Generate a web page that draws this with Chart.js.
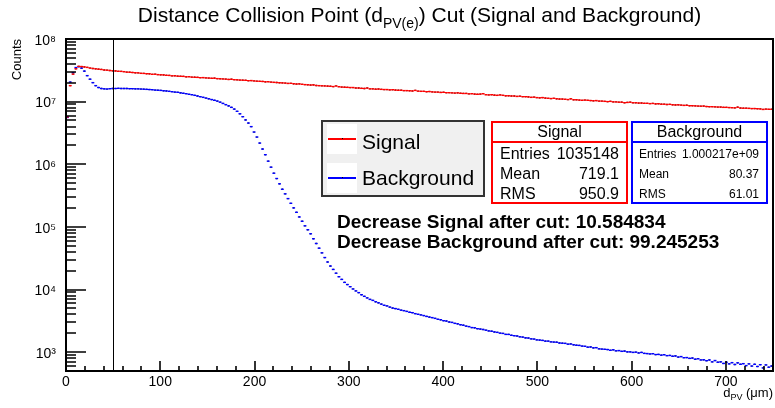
<!DOCTYPE html>
<html lang="en">
<head>
<meta charset="UTF-8">
<title>Distance Collision Point Cut</title>
<script src="https://cdn.jsdelivr.net/npm/chart.js"></script>
<style>
    * { margin: 0; padding: 0; box-sizing: border-box; }
    body { background: #fff; font-family: 'Liberation Sans', Arial, Helvetica, sans-serif; color: #000; }
    .wrap { position: relative; width: 775px; height: 408px; overflow: hidden; }
    #chart { position: absolute; left: 0; top: 0; }
    .abs { position: absolute; line-height: 1; white-space: nowrap; }
    .title { left: 66px; width: 707px; top: 4px; text-align: center; font-size: 21px; }
    .title sub { font-size: 14px; vertical-align: -6px; line-height: 1; }
    .xtitle { right: 2px; top: 386px; font-size: 13px; }
    .xtitle sub { font-size: 9px; vertical-align: -3px; line-height: 1; }
    .legend { left: 321px; top: 120px; width: 164px; height: 77px; background: #f0f0f0; border: 2px solid #333; }
    .swatch { width: 30px; height: 30px; background: #fff; }
    .sample { width: 28px; height: 1.5px; }
    .dot { width: 1px; height: 1px; background: #000; }
    .legtext { font-size: 21px; }
    .stats { width: 137px; height: 83px; top: 121px; border: 2px solid; background: #fff; }
    .row { display: flex; justify-content: space-between; }
    .cut { left: 337px; font-size: 19px; font-weight: bold; }
</style>
</head>
<body>
<div class="wrap">
    <canvas id="chart" width="775" height="408"></canvas>

    <div class="abs title">Distance Collision Point (d<sub>PV(e)</sub>) Cut (Signal and Background)</div>
    <div class="abs xtitle">d<sub>PV</sub> (&mu;m)</div>

    <div class="abs legend"></div>
    <div class="abs swatch" style="left:327px; top:124px;"></div>
    <div class="abs swatch" style="left:327px; top:163px;"></div>
    <div class="abs sample" style="left:328px; top:138px; background:#ff0000;"></div>
    <div class="abs sample" style="left:328px; top:177px; background:#0000ff;"></div>
    <div class="abs dot" style="left:342px; top:138px;"></div>
    <div class="abs dot" style="left:342px; top:177px;"></div>
    <div class="abs legtext" style="left:362px; top:131px;">Signal</div>
    <div class="abs legtext" style="left:362px; top:167px;">Background</div>

    <div class="abs stats" style="left:491px; border-color:#ff0000;"></div>
    <div class="abs" style="left:491px; top:141px; width:137px; height:2px; background:#ff0000;"></div>
    <div class="abs" style="left:491px; top:124px; width:137px; text-align:center; font-size:16px;">Signal</div>
    <div class="abs row" style="left:500px; width:119px; top:146px; font-size:16px;"><span>Entries</span><span>1035148</span></div>
    <div class="abs row" style="left:500px; width:119px; top:166px; font-size:16px;"><span>Mean</span><span>719.1</span></div>
    <div class="abs row" style="left:500px; width:119px; top:186px; font-size:16px;"><span>RMS</span><span>950.9</span></div>

    <div class="abs stats" style="left:631px; border-color:#0000ff;"></div>
    <div class="abs" style="left:631px; top:141px; width:137px; height:2px; background:#0000ff;"></div>
    <div class="abs" style="left:631px; top:124px; width:137px; text-align:center; font-size:16px;">Background</div>
    <div class="abs row" style="left:639px; width:120px; top:148px; font-size:12px;"><span>Entries</span><span>1.000217e+09</span></div>
    <div class="abs row" style="left:639px; width:120px; top:168px; font-size:12px;"><span>Mean</span><span>80.37</span></div>
    <div class="abs row" style="left:639px; width:120px; top:188px; font-size:12px;"><span>RMS</span><span>61.01</span></div>

    <div class="abs cut" style="top:212px;">Decrease Signal after cut: 10.584834</div>
    <div class="abs cut" style="top:232px;">Decrease Background after cut: 99.245253</div>
</div>

<script>
    // histogram binning: 250 bins of 3 um from 0 to 750 um
    const binLow = 0;
    const binWidth = 3;
    const cutValue = 50;

    // signal counts per bin (red)
    const signalCounts = [
        5.7e6, 18.0e6, 27.5e6, 33.5e6, 36.5e6, 36.3e6, 35.8e6, 35.2e6, 34.4e6, 33.8e6,
        33.4e6, 33.0e6, 32.6e6, 32.0e6, 31.8e6, 31.4e6, 31.1e6, 30.9e6, 30.5e6, 30.4e6,
        30.1e6, 29.6e6, 29.5e6, 29.2e6, 28.9e6, 28.8e6, 28.3e6, 28.2e6, 27.9e6, 27.8e6,
        27.3e6, 27.4e6, 27.0e6, 26.8e6, 26.7e6, 26.3e6, 26.2e6, 25.8e6, 25.9e6, 25.5e6,
        25.4e6, 25.3e6, 24.9e6, 25.0e6, 24.6e6, 24.5e6, 24.4e6, 24.1e6, 24.2e6, 23.9e6,
        23.8e6, 23.6e6, 23.7e6, 23.3e6, 23.2e6, 23.0e6, 22.9e6, 22.6e6, 22.8e6, 22.4e6,
        22.3e6, 22.1e6, 22.0e6, 21.9e6, 21.6e6, 21.7e6, 21.4e6, 21.2e6, 21.1e6, 21.0e6,
        20.7e6, 20.8e6, 20.5e6, 20.3e6, 20.2e6, 20.0e6, 19.9e6, 19.8e6, 19.5e6, 19.6e6,
        19.3e6, 19.1e6, 19.2e6, 18.9e6, 18.7e6, 18.6e6, 18.4e6, 18.5e6, 18.1e6, 18.0e6,
        17.9e6, 17.8e6, 17.7e6, 17.6e6, 17.4e6, 17.8e6, 17.3e6, 17.1e6, 17.0e6, 16.9e6,
        16.8e6, 16.8e6, 16.5e6, 16.5e6, 16.3e6, 16.2e6, 16.5e6, 16.0e6, 16.0e6, 15.8e6,
        15.9e6, 15.7e6, 15.6e6, 15.6e6, 15.4e6, 15.5e6, 15.3e6, 15.2e6, 15.2e6, 15.0e6,
        15.0e6, 14.9e6, 14.8e6, 15.1e6, 14.7e6, 14.6e6, 14.6e6, 14.4e6, 14.5e6, 14.3e6,
        14.2e6, 14.2e6, 14.0e6, 14.1e6, 13.9e6, 13.9e6, 13.8e6, 13.7e6, 13.8e6, 13.6e6,
        13.5e6, 13.5e6, 13.3e6, 13.4e6, 13.2e6, 13.1e6, 13.2e6, 13.4e6, 12.9e6, 12.8e6,
        12.9e6, 12.7e6, 12.6e6, 12.8e6, 12.6e6, 12.4e6, 12.4e6, 12.3e6, 12.3e6, 12.1e6,
        12.2e6, 12.0e6, 12.0e6, 11.9e6, 11.7e6, 11.8e6, 11.6e6, 11.5e6, 11.6e6, 11.4e6,
        11.3e6, 11.2e6, 11.3e6, 11.1e6, 11.0e6, 11.0e6, 10.9e6, 10.8e6, 11.1e6, 10.7e6,
        10.7e6, 10.6e6, 10.5e6, 10.6e6, 10.5e6, 10.4e6, 10.3e6, 10.4e6, 10.2e6, 10.2e6,
        10.1e6, 10.0e6, 10.1e6, 9.9e6, 9.9e6, 9.8e6, 9.8e6, 9.6e6, 9.7e6, 9.8e6,
        9.6e6, 9.6e6, 9.5e6, 9.5e6, 9.4e6, 9.4e6, 9.3e6, 9.35e6, 9.2e6, 9.25e6,
        9.1e6, 9.1e6, 9.0e6, 9.05e6, 8.9e6, 8.85e6, 8.9e6, 8.8e6, 8.7e6, 8.75e6,
        8.6e6, 8.6e6, 8.55e6, 8.5e6, 8.45e6, 8.5e6, 8.35e6, 8.3e6, 8.3e6, 8.25e6,
        8.2e6, 8.2e6, 8.1e6, 8.1e6, 8.05e6, 8.0e6, 7.95e6, 8.15e6, 7.9e6, 7.85e6,
        7.85e6, 7.8e6, 7.75e6, 7.75e6, 7.7e6, 7.65e6, 7.5e6, 7.6e6, 7.55e6, 7.55e6
    ];

    // background counts per bin (blue)
    const backgroundCounts = [
        5.6e6, 20.5e6, 29.0e6, 35.0e6, 36.2e6, 34.3e6, 30.7e6, 26.0e6, 22.8e6, 20.1e6,
        18.0e6, 16.8e6, 16.2e6, 16.0e6, 15.9e6, 16.1e6, 16.2e6, 16.2e6, 16.3e6, 16.2e6,
        16.2e6, 16.2e6, 16.1e6, 16.1e6, 16.0e6, 16.0e6, 15.9e6, 15.8e6, 15.7e6, 15.6e6,
        15.5e6, 15.3e6, 15.2e6, 15.1e6, 14.9e6, 14.8e6, 14.6e6, 14.4e6, 14.2e6, 14.1e6,
        13.8e6, 13.6e6, 13.4e6, 13.1e6, 12.9e6, 12.6e6, 12.3e6, 12.0e6, 11.7e6, 11.4e6,
        11.1e6, 10.8e6, 10.5e6, 10.2e6, 9.8e6, 9.35e6, 8.95e6, 8.55e6, 8.1e6, 7.6e6,
        7.0e6, 6.4e6, 5.75e6, 5.1e6, 4.55e6, 3.99e6, 3.27e6, 2.72e6, 2.18e6, 1.75e6,
        1.42e6, 1.12e6, 898e3, 719e3, 592e3, 487e3, 399e3, 337e3, 283e3, 238e3,
        201e3, 171e3, 144e3, 123e3, 104e3, 90.0e3, 77.6e3, 64.6e3, 54.3e3, 45.7e3,
        38.5e3, 32.4e3, 27.5e3, 23.7e3, 20.9e3, 18.2e3, 16.0e3, 14.5e3, 13.0e3, 12.0e3,
        11.1e3, 10.2e3, 9500, 8920, 8250, 7780, 7350, 6950, 6700, 6380,
        6130, 5850, 5600, 5470, 5240, 5060, 4960, 4830, 4680, 4600,
        4470, 4330, 4270, 4120, 4020, 3930, 3840, 3720, 3630, 3560,
        3460, 3350, 3290, 3180, 3140, 3030, 2980, 2880, 2830, 2740,
        2690, 2600, 2560, 2470, 2450, 2370, 2340, 2300, 2240, 2180,
        2160, 2100, 2070, 2010, 1990, 1920, 1920, 1860, 1830, 1810,
        1760, 1740, 1690, 1680, 1630, 1620, 1570, 1560, 1540, 1500,
        1500, 1460, 1450, 1440, 1400, 1390, 1380, 1340, 1350, 1310,
        1290, 1280, 1250, 1240, 1200, 1210, 1170, 1180, 1130, 1120,
        1110, 1100, 1070, 1090, 1050, 1060, 1030, 1040, 1010, 1010,
        990, 1000, 970, 990, 955, 950, 935, 945, 915, 920,
        895, 910, 880, 885, 860, 870, 835, 850, 815, 820,
        795, 805, 770, 785, 750, 755, 730, 750, 700, 735,
        690, 700, 660, 690, 650, 680, 635, 675, 640, 655,
        610, 650, 600, 640, 590, 630, 560, 625, 575, 600
    ];

    // axes
    const xRange = [0, 750];
    const xMajorTicks = [0, 100, 200, 300, 400, 500, 600, 700];
    const xMinorStep = 20;
    const yRange = [500, 1e8];
    const yDecades = [1e3, 1e4, 1e5, 1e6, 1e7, 1e8];
    const yDecadeLabels = ['10\u00b3', '10\u2074', '10\u2075', '10\u2076', '10\u2077', '10\u2078'];

    const toPoints = counts => counts.map((v, i) => ({ x: binLow + (i + 0.5) * binWidth, y: v }));

    // ROOT style frame: ticks drawn inside, cut line, closed box
    const frameTicks = {
        id: 'frameTicks',
        afterDraw(chart) {
            const { ctx, chartArea: a, scales: { x, y } } = chart;
            ctx.save();
            ctx.strokeStyle = '#000';
            ctx.lineWidth = 1.6;
            ctx.beginPath();
            y.ticks.forEach(t => {
                const py = Math.round(y.getPixelForValue(t.value));
                const len = yDecades.includes(t.value) ? 20 : 10;
                ctx.moveTo(a.left, py);
                ctx.lineTo(a.left + len, py);
            });
            x.ticks.forEach(t => {
                const px = Math.round(x.getPixelForValue(t.value));
                const len = xMajorTicks.includes(t.value) ? 10 : 5;
                ctx.moveTo(px, a.bottom);
                ctx.lineTo(px, a.bottom - len);
            });
            ctx.stroke();

            ctx.lineWidth = 1;
            const cx = Math.round(x.getPixelForValue(cutValue)) + 0.5;
            ctx.beginPath();
            ctx.moveTo(cx, a.top);
            ctx.lineTo(cx, a.bottom);
            ctx.stroke();

            ctx.lineWidth = 2;
            ctx.strokeRect(a.left, a.top, a.right - a.left, a.bottom - a.top);
            ctx.restore();
        }
    };

    Chart.defaults.font.family = "'Liberation Sans', Arial, Helvetica, sans-serif";
    Chart.defaults.color = '#000';

    const errBar = color => ({
        showLine: false,
        pointStyle: 'line',
        pointRadius: 1.45,
        pointBorderWidth: 1.4,
        pointBorderColor: color,
        borderColor: color
    });
    const marker = {
        showLine: false,
        pointStyle: 'rect',
        pointRadius: 0.9,
        pointBorderWidth: 0,
        pointBackgroundColor: '#000'
    };

    new Chart(document.getElementById('chart'), {
        type: 'line',
        data: {
            datasets: [
                { label: 'Signal', data: toPoints(signalCounts), ...errBar('#ff0000') },
                { label: 'Background', data: toPoints(backgroundCounts), ...errBar('#0000ff') },
                { label: 'Signal markers', data: toPoints(signalCounts), ...marker },
                { label: 'Background markers', data: toPoints(backgroundCounts), ...marker }
            ]
        },
        options: {
            responsive: false,
            animation: false,
            events: [],
            layout: { autoPadding: false, padding: { top: 39, right: 2, left: 0, bottom: 0 } },
            plugins: {
                legend: { display: false },
                tooltip: { enabled: false },
                title: { display: false }
            },
            scales: {
                x: {
                    type: 'linear',
                    min: xRange[0],
                    max: xRange[1],
                    grid: { display: false, drawTicks: false },
                    border: { display: false },
                    afterBuildTicks: scale => {
                        const ticks = [];
                        for (let v = xRange[0]; v < xRange[1]; v += xMinorStep) ticks.push({ value: v });
                        scale.ticks = ticks;
                    },
                    afterFit: scale => {
                        scale.height = 37;
                        scale.paddingLeft = 0;
                        scale.paddingRight = 0;
                    },
                    ticks: {
                        autoSkip: false,
                        maxRotation: 0,
                        padding: 3,
                        font: { size: 14 },
                        callback: v => xMajorTicks.includes(v) ? String(v) : ''
                    }
                },
                y: {
                    type: 'logarithmic',
                    min: yRange[0],
                    max: yRange[1],
                    grid: { display: false, drawTicks: false },
                    border: { display: false },
                    afterBuildTicks: scale => {
                        const ticks = [];
                        for (let e = 2; e <= 8; e++) {
                            for (let m = 1; m <= 9; m++) {
                                const v = m * Math.pow(10, e);
                                if (v >= yRange[0] && v <= yRange[1]) ticks.push({ value: v });
                            }
                        }
                        scale.ticks = ticks;
                    },
                    afterFit: scale => {
                        scale.width = 66;
                        scale.paddingTop = 0;
                        scale.paddingBottom = 0;
                    },
                    ticks: {
                        autoSkip: false,
                        padding: 10,
                        labelOffset: 2,
                        font: { size: 14 },
                        callback: v => {
                            const i = yDecades.indexOf(v);
                            return i >= 0 ? yDecadeLabels[i] : '';
                        }
                    },
                    title: {
                        display: true,
                        text: 'Counts',
                        align: 'end',
                        font: { size: 13 },
                        padding: { top: 10, bottom: 0 }
                    }
                }
            }
        },
        plugins: [frameTicks]
    });
</script>
</body>
</html>
